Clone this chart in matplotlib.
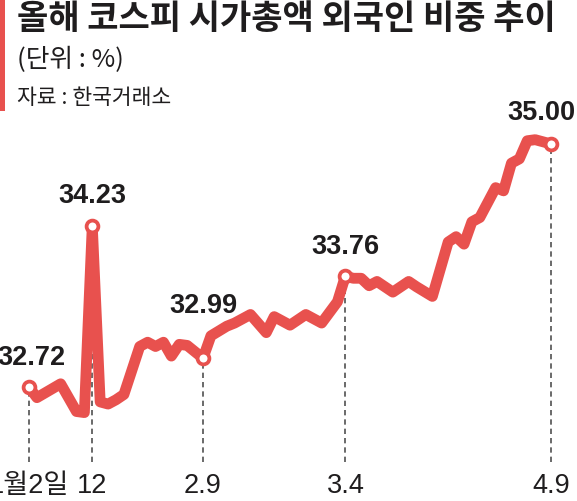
import matplotlib
matplotlib.use("Agg")
import matplotlib.pyplot as plt
from matplotlib import font_manager as fm
from matplotlib.patches import Rectangle

# ---------------- data ----------------
title = "올해 코스피 시가총액 외국인 비중 추이"
unit_text = "(단위 : %)"
source_text = "자료 : 한국거래소"

day_idx = [0, 1, 4, 6, 7, 8, 9, 10, 11, 12, 14, 15, 16, 17, 18, 19, 20, 22,
           23, 25, 26, 28, 30, 31, 33, 35, 37, 39, 40, 41, 42, 43, 44, 46, 48,
           49, 51, 53, 54, 55, 56, 57, 59, 60, 61, 62, 63, 64, 66]
share = [32.72, 32.62, 32.75, 32.49, 32.48, 34.23, 32.58, 32.56, 32.60, 32.65,
         33.10, 33.14, 33.10, 33.14, 33.01, 33.12, 33.11, 32.99,
         33.20, 33.29, 33.32, 33.40, 33.23, 33.38, 33.30, 33.40, 33.32, 33.52,
         33.76, 33.74, 33.74, 33.67, 33.71, 33.61, 33.71,
         33.66, 33.57, 34.08, 34.13, 34.06, 34.27, 34.31, 34.59, 34.56, 34.82,
         34.86, 35.03, 35.04, 35.00]

key_idx = [0, 8, 22, 40, 66]
key_labels = ["32.72", "34.23", "32.99", "33.76", "35.00"]
tick_labels = ["1월2일", "12", "2.9", "3.4", "4.9"]

# ---------------- style ----------------
RED = "#E8514E"
TXT = "#1f1d1e"
DASH = "#505050"

def has_font(name):
    try:
        fm.findfont(fm.FontProperties(family=name), fallback_to_default=False)
        return True
    except Exception:
        return False

NUM = "Liberation Sans Narrow" if has_font("Liberation Sans Narrow") else "Liberation Sans"
num_scale = 1.0 if NUM == "Liberation Sans Narrow" else 0.85
KR = "Noto Sans CJK KR"

W, H = 577, 502
fig = plt.figure(figsize=(W / 100, H / 100), dpi=100)
fig.patch.set_facecolor("white")

ax_bottom_px = 463
ax = fig.add_axes([0, (H - ax_bottom_px) / H, 1, ax_bottom_px / H])
ax.set_facecolor("none")

# pixel mapping: idx 0 -> x 29, idx 66 -> x 551 ; 32.72 -> y 388, 106.6 px/unit
pxd = (551 - 29) / 66.0
ax.set_xlim(0 - 29 / pxd, 66 + (W - 551) / pxd)
ppu = 106.6
ybot = 32.72 - (ax_bottom_px - 388) / ppu
ytop = 32.72 + 388 / ppu
ax.set_ylim(ybot, ytop)
for s in ax.spines.values():
    s.set_visible(False)
ax.set_yticks([])

key_vals = [share[day_idx.index(i)] for i in key_idx]

# dashed guide lines
ax.vlines(key_idx, ybot, key_vals, colors=DASH, linestyles=(0, (3.2, 2.4)),
          linewidth=1.2, zorder=1)

# main line
ax.plot(day_idx, share, color=RED, lw=7.8, solid_joinstyle="round",
        solid_capstyle="round", zorder=2)

# key markers
ax.plot(key_idx, key_vals, linestyle="none", marker="o", ms=8.5,
        mfc="white", mec=RED, mew=2.7, zorder=3)

# value labels
offsets = [(2, 30), (0, 31), (0, 53), (0, 30), (-10, 32)]
for xi, v, lab, (dx, dy) in zip(key_idx, key_vals, key_labels, offsets):
    ax.annotate(lab, (xi, v), xytext=(dx * 0.72, dy * 0.72), textcoords="offset points",
                ha="center", va="center", fontsize=23 * num_scale, fontweight="bold",
                family=[NUM, KR], color=TXT, annotation_clip=False, zorder=4)

# x tick labels
ax.set_xticks(key_idx)
ax.set_xticklabels(tick_labels, family=[NUM, KR], fontsize=23 * num_scale, color=TXT)
ax.tick_params(axis="x", length=0, pad=7)

# header
fig.add_artist(Rectangle((0, 1 - 112 / H), 5 / W, 112 / H, transform=fig.transFigure,
                         facecolor=RED, edgecolor="none"))
fig.text(17 / W, 1 - 18 / H, title, ha="left", va="center", fontsize=24.5,
         fontweight="heavy", family=[KR, "DejaVu Sans"], color=TXT)
fig.text(17 / W, 1 - 60 / H, unit_text, ha="left", va="center", fontsize=18.5,
         family=[KR, "DejaVu Sans"], color=TXT)
fig.text(17 / W, 1 - 98 / H, source_text, ha="left", va="center", fontsize=15.5,
         family=[KR, "DejaVu Sans"], color=TXT)

fig.savefig("out.png", dpi=100, facecolor="white")
